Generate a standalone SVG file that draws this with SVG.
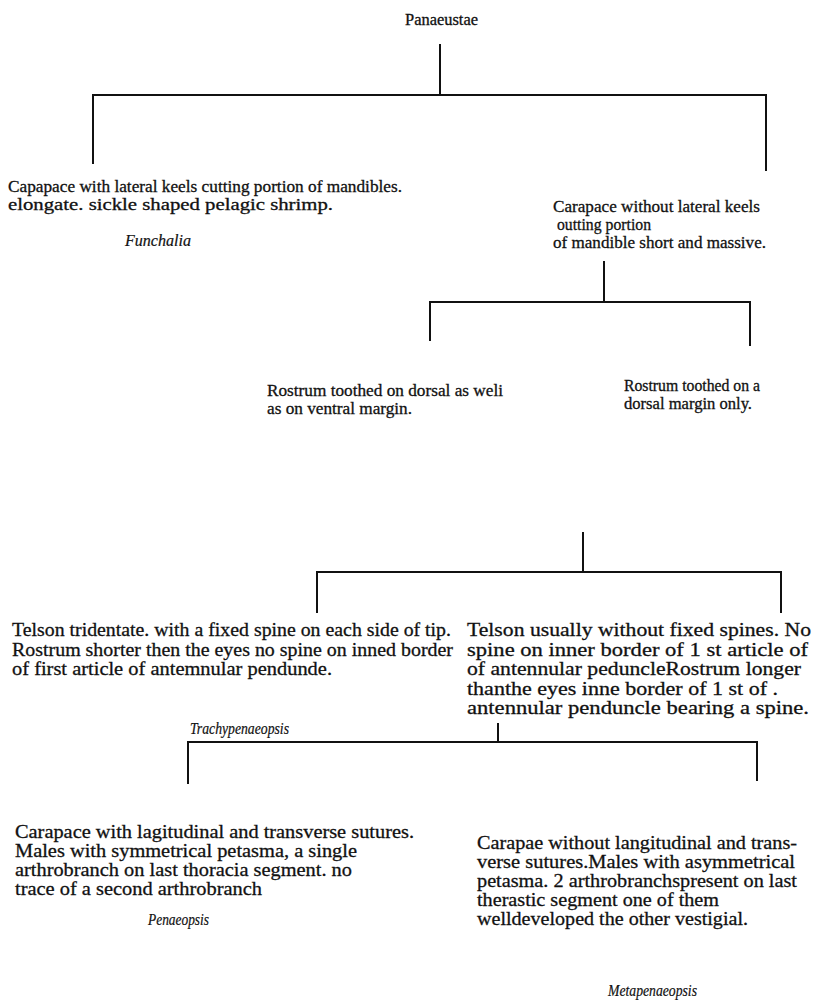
<svg xmlns="http://www.w3.org/2000/svg" width="816" height="1002" viewBox="0 0 816 1002">
<style>
text{font-family:"Liberation Serif","Times New Roman",serif;fill:#111;stroke:#111;stroke-width:0.3}
.t{font-size:16px}
.a{font-size:17px}
.b{font-size:16px}
.c20{font-size:19.5px}
.g{font-style:italic;font-size:16px;stroke-width:0.2}
.c line{stroke:#111;stroke-width:2;stroke-linecap:square}
</style>
<rect width="816" height="1002" fill="#fff"/>
<g class="c" id="connectors">
<line x1="440" y1="45" x2="440" y2="95"/>
<line x1="93" y1="95" x2="766" y2="95"/>
<line x1="93" y1="95" x2="93" y2="163"/>
<line x1="766" y1="95" x2="766" y2="170"/>
<line x1="604" y1="262" x2="604" y2="302"/>
<line x1="430" y1="302" x2="750" y2="302"/>
<line x1="430" y1="302" x2="430" y2="340"/>
<line x1="750" y1="302" x2="750" y2="345"/>
<line x1="583" y1="533" x2="583" y2="572"/>
<line x1="317" y1="572" x2="781" y2="572"/>
<line x1="317" y1="572" x2="317" y2="612"/>
<line x1="781" y1="572" x2="781" y2="612"/>
<line x1="498" y1="724" x2="498" y2="742"/>
<line x1="188" y1="742" x2="757" y2="742"/>
<line x1="188" y1="742" x2="188" y2="783"/>
<line x1="757" y1="742" x2="757" y2="780"/>
</g>
<g id="root"><text class="t" x="405" y="25" textLength="73" lengthAdjust="spacingAndGlyphs">Panaeustae</text></g>
<g id="n1" class="a">
<text x="8" y="192" textLength="394" lengthAdjust="spacingAndGlyphs">Capapace with lateral keels cutting portion of mandibles.</text>
<text x="8" y="210" textLength="325" lengthAdjust="spacingAndGlyphs">elongate. sickle shaped pelagic shrimp.</text>
<text class="g" x="125" y="246" textLength="66" lengthAdjust="spacingAndGlyphs">Funchalia</text>
</g>
<g id="n2" class="a">
<text x="553" y="212" textLength="207" lengthAdjust="spacingAndGlyphs">Carapace without lateral keels</text>
<text x="557" y="230" textLength="94" lengthAdjust="spacingAndGlyphs">outting portion</text>
<text x="553" y="248" textLength="213" lengthAdjust="spacingAndGlyphs">of mandible short and massive.</text>
</g>
<g id="n3" class="a">
<text x="267" y="396" textLength="236" lengthAdjust="spacingAndGlyphs">Rostrum toothed on dorsal as weli</text>
<text x="267" y="414" textLength="145" lengthAdjust="spacingAndGlyphs">as on ventral margin.</text>
</g>
<g id="n4" class="b">
<text x="624" y="391" textLength="136" lengthAdjust="spacingAndGlyphs">Rostrum toothed on a</text>
<text x="624" y="409" textLength="128" lengthAdjust="spacingAndGlyphs">dorsal margin only.</text>
</g>
<g id="n5" class="c20">
<text x="12" y="636" textLength="439" lengthAdjust="spacingAndGlyphs">Telson tridentate. with a fixed spine on each side of tip.</text>
<text x="12" y="655.5" textLength="441" lengthAdjust="spacingAndGlyphs">Rostrum shorter then the eyes no spine on inned border</text>
<text x="12" y="675" textLength="320" lengthAdjust="spacingAndGlyphs">of first article of antemnular pendunde.</text>
<text class="g" x="190" y="734" textLength="99" lengthAdjust="spacingAndGlyphs">Trachypenaeopsis</text>
</g>
<g id="n6" class="c20">
<text x="467" y="636" textLength="344" lengthAdjust="spacingAndGlyphs">Telson usually without fixed spines. No</text>
<text x="467" y="655.5" textLength="341" lengthAdjust="spacingAndGlyphs">spine on inner border of 1 st article of</text>
<text x="467" y="675" textLength="334" lengthAdjust="spacingAndGlyphs">of antennular peduncleRostrum longer</text>
<text x="467" y="694.5" textLength="311" lengthAdjust="spacingAndGlyphs">thanthe eyes inne border of 1 st of .</text>
<text x="467" y="714" textLength="342" lengthAdjust="spacingAndGlyphs">antennular penduncle bearing a spine.</text>
</g>
<g id="n7" class="c20">
<text x="15" y="838" textLength="399" lengthAdjust="spacingAndGlyphs">Carapace with lagitudinal and transverse sutures.</text>
<text x="15" y="857" textLength="342" lengthAdjust="spacingAndGlyphs">Males with symmetrical petasma, a single</text>
<text x="15" y="876" textLength="337" lengthAdjust="spacingAndGlyphs">arthrobranch on last thoracia segment. no</text>
<text x="15" y="895" textLength="247" lengthAdjust="spacingAndGlyphs">trace of a second arthrobranch</text>
<text class="g" x="148" y="925" textLength="61" lengthAdjust="spacingAndGlyphs">Penaeopsis</text>
</g>
<g id="n8" class="c20">
<text x="477" y="849" textLength="320" lengthAdjust="spacingAndGlyphs">Carapae without langitudinal and trans-</text>
<text x="477" y="868" textLength="318" lengthAdjust="spacingAndGlyphs">verse sutures.Males with asymmetrical</text>
<text x="477" y="887" textLength="320" lengthAdjust="spacingAndGlyphs">petasma. 2 arthrobranchspresent on last</text>
<text x="477" y="906" textLength="242" lengthAdjust="spacingAndGlyphs">therastic segment one of them</text>
<text x="477" y="925" textLength="271" lengthAdjust="spacingAndGlyphs">welldeveloped the other vestigial.</text>
<text class="g" x="608" y="996" textLength="89" lengthAdjust="spacingAndGlyphs">Metapenaeopsis</text>
</g>
</svg>
